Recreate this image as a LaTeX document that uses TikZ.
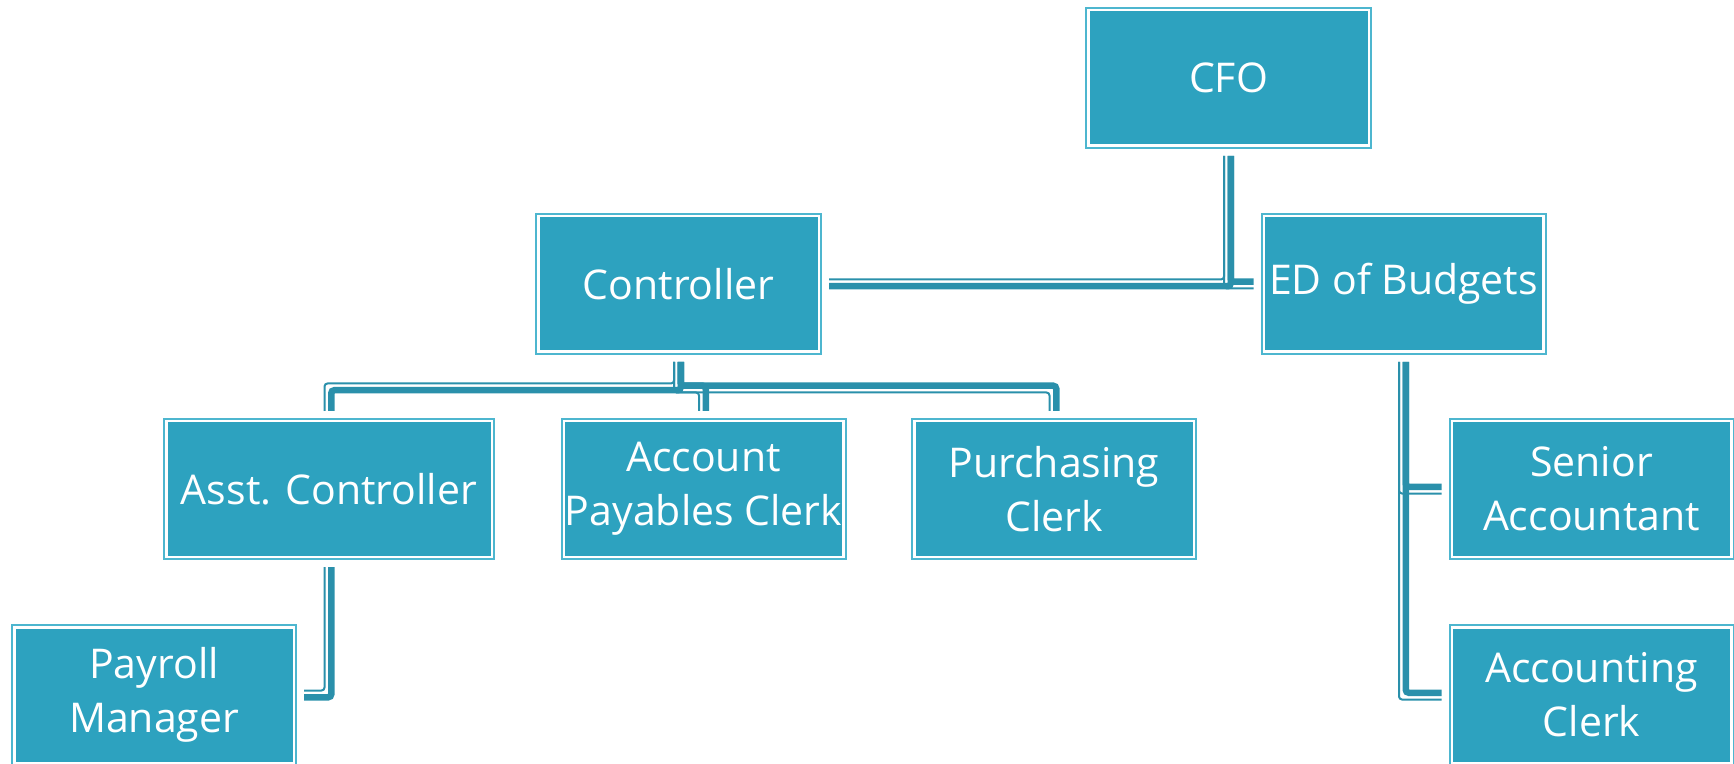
\documentclass[tikz,border=0pt]{standalone}
\usepackage{fontspec}
\setmainfont{Open Sans}
\usetikzlibrary{calc}
\definecolor{boxfill}{HTML}{2DA2BF}
\definecolor{boxedge}{HTML}{4DB6CF}
\definecolor{linkc}{HTML}{2A90AB}
\tikzset{
  orgbox/.style={draw=boxedge, line width=1pt, fill=white,
    minimum width=142pt, minimum height=70pt, inner sep=0pt, outer sep=0pt,
    text=white, font=\fontsize{20.5}{27}\selectfont, align=center,
    path picture={\fill[boxfill]
      ($(path picture bounding box.south west)+(3.5,-3.5)$) rectangle
      ($(path picture bounding box.north east)+(-3.5,3.5)$);}},
  thinlink/.style={draw=linkc, line width=1pt, rounded corners=1.5pt},
  thicklink/.style={draw=linkc, line width=3.25pt, rounded corners=1.5pt},
}
\begin{document}
\begin{tikzpicture}[x=0.5pt, y=-0.5pt]
\useasboundingbox (0,0) rectangle (1734,764);
\clip (0,0) rectangle (1734,764);

% boxes
\node[orgbox, minimum width=142.5pt] (cfo)   at (1228.5,78) {CFO};
\node[orgbox, minimum width=142.5pt] (ctrl)  at (678.5,284) {Controller};
\node[orgbox] (ed)     at (1403.5,284) {ED of Budgets};
\node[orgbox, minimum width=165pt] (asst) at (329,489) {Asst. Controller};
\node[orgbox] (apc)    at (703.5,489) {Account\\Payables Clerk};
\node[orgbox] (purch)  at (1054,489) {Purchasing\\Clerk};
\node[orgbox] (senior) at (1591.5,489) {Senior\\Accountant};
\node[orgbox] (payroll) at (154,695) {Payroll\\Manager};
\node[orgbox] (acct)   at (1591.5,695) {Accounting\\Clerk};

% CFO to its two reports
\draw[thinlink]  ($(cfo.south)+(-4.5,8)$) |- ($(ctrl.east)+(8,-4.5)$);
\draw[thicklink] ($(cfo.south)+(2.25,8)$) |- ($(ctrl.east)+(8,2.25)$);
\draw[thinlink]  ($(cfo.south)+(-4.5,8)$) |- ($(ed.west)+(-8,4.5)$);
\draw[thicklink] ($(cfo.south)+(2.25,8)$) |- ($(ed.west)+(-8,-2.25)$);

% Controller bus
\coordinate (cb) at ($(ctrl.south)+(0,34)$);
\draw[thinlink]  ($(ctrl.south)+(-4.5,8)$) |- ($(cb)+(-100,-4.5)$) -| ($(asst.north)+(-4.5,-8)$);
\draw[thicklink] ($(ctrl.south)+(2.25,8)$) |- ($(cb)+(-100,2.25)$) -| ($(asst.north)+(2.25,-8)$);
\draw[thinlink]  ($(ctrl.south)+(-4.5,8)$) |- ($(cb)+(10,4.5)$) -| ($(apc.north)+(-4.5,-8)$);
\draw[thicklink] ($(ctrl.south)+(2.25,8)$) |- ($(cb)+(10,-2.25)$) -| ($(apc.north)+(2.25,-8)$);
\draw[thinlink]  ($(ctrl.south)+(-4.5,8)$) |- ($(cb)+(100,4.5)$) -| ($(purch.north)+(-4.5,-8)$);
\draw[thicklink] ($(ctrl.south)+(2.25,8)$) |- ($(cb)+(100,-2.25)$) -| ($(purch.north)+(2.25,-8)$);

% Asst. Controller to Payroll Manager
\draw[thinlink]  ($(asst.south)+(-4.5,8)$) |- ($(payroll.east)+(8,-4.5)$);
\draw[thicklink] ($(asst.south)+(2.25,8)$) |- ($(payroll.east)+(8,2.25)$);

% ED of Budgets to its reports
\draw[thinlink]  ($(ed.south)+(-4.5,8)$) |- ($(senior.west)+(-8,4.5)$);
\draw[thicklink] ($(ed.south)+(2.25,8)$) |- ($(senior.west)+(-8,-2.25)$);
\draw[thinlink]  ($(ed.south)+(-4.5,8)$) |- ($(acct.west)+(-8,4.5)$);
\draw[thicklink] ($(ed.south)+(2.25,8)$) |- ($(acct.west)+(-8,-2.25)$);
\end{tikzpicture}
\end{document}
